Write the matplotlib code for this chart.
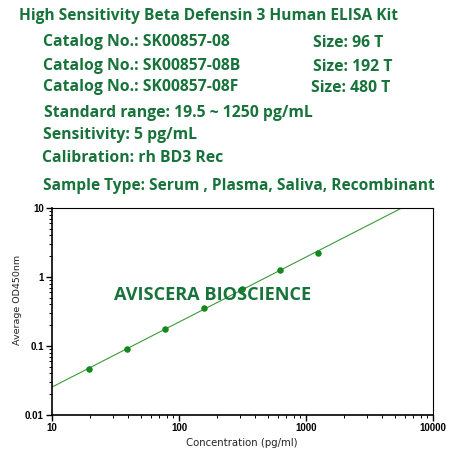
import numpy as np
import matplotlib
matplotlib.use("Agg")
import matplotlib.pyplot as plt
from matplotlib.ticker import LogLocator, NullFormatter, FixedFormatter, FixedLocator

# standard curve readings
conc = [19.5, 39, 78, 156, 312, 625, 1250]
od450 = [0.046, 0.091, 0.176, 0.356, 0.67, 1.28, 2.25]

x_ticks = [10, 100, 1000, 10000]
x_tick_labels = ["10", "100", "1000", "10000"]
y_ticks = [0.01, 0.1, 1, 10]
y_tick_labels = ["0.01", "0.1", "1", "10"]

header_lines = [
    "Catalog No.: SK00857-08",
    "Catalog No.: SK00857-08B",
    "Catalog No.: SK00857-08F",
]
sizes = ["Size: 96 T", "Size: 192 T", "Size: 480 T"]
TXT = "#17733a"
DOT = "#13881c"
LINE = "#3a9a3a"

fig = plt.figure(figsize=(4.5, 4.5), dpi=100)
hfont = dict(family="Open Sans", weight="bold", color=TXT)
FS = 11.3

fig.text(19 / 450, 1 - 16 / 450, "High Sensitivity Beta Defensin 3 Human ELISA Kit",
         fontsize=11.2, va="center", **hfont)
for c, s, sx, sy in zip(header_lines, sizes, [313, 313, 311], [43, 67, 88]):
    fig.text(43 / 450, 1 - (sy - 1) / 450, c, fontsize=FS, va="center", **hfont)
    fig.text(sx / 450, 1 - sy / 450, s, fontsize=FS, va="center", **hfont)
fig.text(44 / 450, 1 - 113 / 450, "Standard range: 19.5 ~ 1250 pg/mL", fontsize=FS, va="center", **hfont)
fig.text(43 / 450, 1 - 135 / 450, "Sensitivity: 5 pg/mL", fontsize=FS, va="center", **hfont)
fig.text(42 / 450, 1 - 158 / 450, "Calibration: rh BD3 Rec", fontsize=FS, va="center", **hfont)
fig.text(43 / 450, 1 - 186 / 450, "Sample Type: Serum , Plasma, Saliva, Recombinant",
         fontsize=11.2, va="center", **hfont)

ax = fig.add_axes([52 / 450, 1 - 415 / 450, (433 - 52) / 450, (415 - 208) / 450])
ax.set_xscale("log")
ax.set_yscale("log")
ax.set_xlim(10, 10000)
ax.set_ylim(0.01, 10)

# log-log linear fit of the standards
k, b = np.polyfit(np.log10(conc), np.log10(od450), 1)
xf = np.logspace(1, 4, 200)
ax.plot(xf, 10 ** (k * np.log10(xf) + b), color=LINE, lw=0.8, zorder=2)
ax.scatter(conc, od450, s=22, color=DOT, zorder=3, linewidths=0)

ax.xaxis.set_major_locator(FixedLocator(x_ticks))
ax.xaxis.set_major_formatter(FixedFormatter(x_tick_labels))
ax.yaxis.set_major_locator(FixedLocator(y_ticks))
ax.yaxis.set_major_formatter(FixedFormatter(y_tick_labels))
ax.xaxis.set_minor_locator(LogLocator(base=10, subs=np.arange(2, 10)))
ax.yaxis.set_minor_locator(LogLocator(base=10, subs=np.arange(2, 10)))
ax.xaxis.set_minor_formatter(NullFormatter())
ax.yaxis.set_minor_formatter(NullFormatter())
ax.tick_params(which="major", direction="out", length=4, width=1, labelsize=7, pad=2)
ax.tick_params(which="minor", direction="out", length=2, width=0.7)
for lab in ax.get_xticklabels() + ax.get_yticklabels():
    lab.set_fontfamily("Liberation Sans")
    lab.set_fontweight("bold")
for sp in ["left", "bottom"]:
    ax.spines[sp].set_linewidth(1.2)
for sp in ["top", "right"]:
    ax.spines[sp].set_linewidth(0.8)

ax.set_xlabel("Concentration (pg/ml)", fontsize=7.3, family="DejaVu Sans", color="#222222")
ax.set_ylabel("Average OD450nm", fontsize=6.8, family="DejaVu Sans", color="#222222")
ax.xaxis.set_label_coords(0.497, -0.111)
ax.yaxis.set_label_coords(-0.079, 0.556)

ax.text(213 / 450, 1 - 295 / 450, "AVISCERA BIOSCIENCE", transform=fig.transFigure,
        ha="center", va="center", fontsize=13.1, **hfont)

fig.savefig("out.png", dpi=100)
